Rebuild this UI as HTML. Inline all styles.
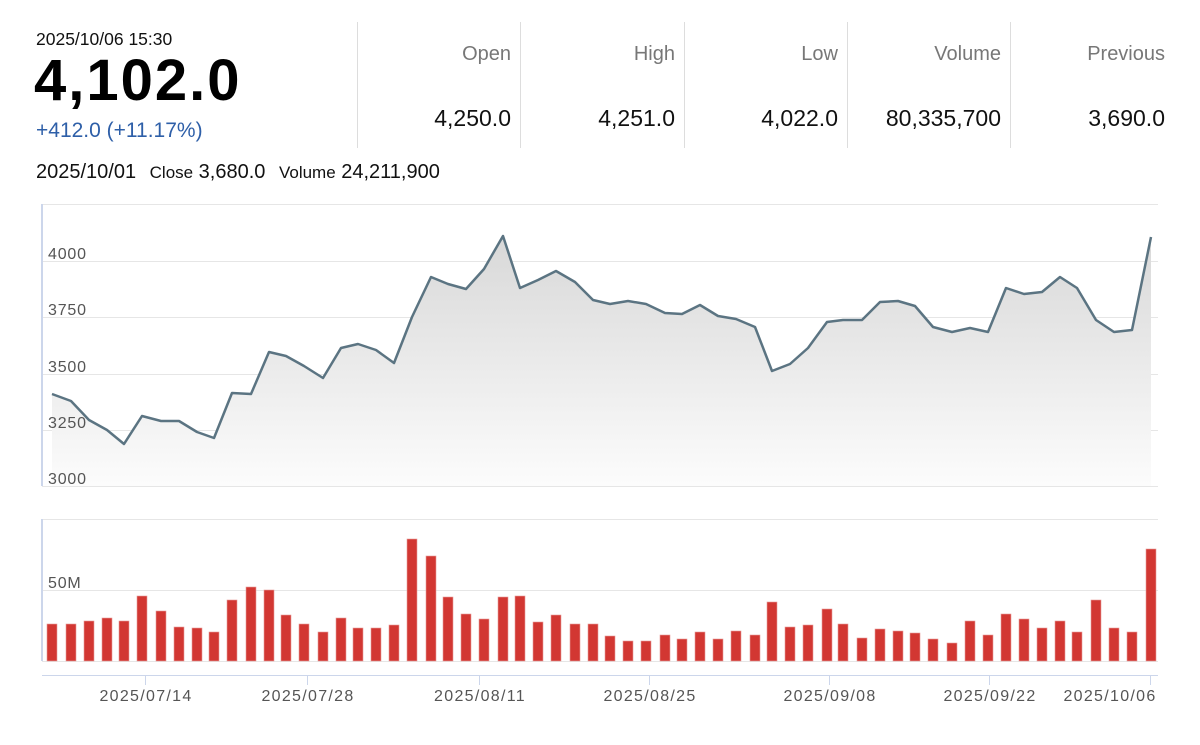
<!DOCTYPE html>
<html><head><meta charset="utf-8"><style>
body{margin:0;width:1200px;height:745px;background:#fff;font-family:"Liberation Sans",Arial,sans-serif;position:relative;overflow:hidden}
.a{position:absolute;white-space:nowrap}
.lab{color:#777;font-size:20px;text-align:right;width:150px}
.val{color:#111;font-size:23px;text-align:right;width:150px}
.div{position:absolute;top:22px;width:1px;height:126px;background:#ddd}
</style></head><body>
<div class="a" style="left:36px;top:29px;font-size:17.5px;color:#111">2025/10/06 15:30</div>
<div class="a" style="left:34px;top:47px;font-size:58px;font-weight:bold;color:#000;letter-spacing:2px">4,102.0</div>
<div class="a" style="left:36px;top:119px;font-size:21px;color:#2e5fa8">+412.0 (+11.17%)</div>
<div class="a" style="left:36px;top:161px;font-size:20px;color:#111">2025/10/01 <span style="font-size:17px;margin-left:8px">Close</span> 3,680.0 <span style="font-size:17px;margin-left:8px">Volume</span> 24,211,900</div>
<div class="div" style="left:357px"></div><div class="div" style="left:520px"></div><div class="div" style="left:684px"></div><div class="div" style="left:847px"></div><div class="div" style="left:1010px"></div>
<div class="a lab" style="left:361px;top:43px">Open</div><div class="a val" style="left:361px;top:105px">4,250.0</div>
<div class="a lab" style="left:525px;top:43px">High</div><div class="a val" style="left:525px;top:105px">4,251.0</div>
<div class="a lab" style="left:688px;top:43px">Low</div><div class="a val" style="left:688px;top:105px">4,022.0</div>
<div class="a lab" style="left:851px;top:43px">Volume</div><div class="a val" style="left:851px;top:105px">80,335,700</div>
<div class="a lab" style="left:1015px;top:43px">Previous</div><div class="a val" style="left:1015px;top:105px">3,690.0</div>
<svg class="a" style="left:0;top:0" width="1200" height="745">
<defs><linearGradient id="g" x1="0" y1="0" x2="0" y2="1"><stop offset="0" stop-color="#d8d8d8"/><stop offset="1" stop-color="#fcfcfc"/></linearGradient></defs>
<g stroke="#e6e6e6" stroke-width="1">
<line x1="42" y1="204.5" x2="1158" y2="204.5"/><line x1="42" y1="261.5" x2="1158" y2="261.5"/><line x1="42" y1="317.5" x2="1158" y2="317.5"/><line x1="42" y1="374.5" x2="1158" y2="374.5"/><line x1="42" y1="430.5" x2="1158" y2="430.5"/><line x1="42" y1="486.5" x2="1158" y2="486.5"/>
<line x1="42" y1="519.5" x2="1158" y2="519.5"/><line x1="42" y1="590.5" x2="1158" y2="590.5"/><line x1="42" y1="661.5" x2="1158" y2="661.5"/>
</g>
<g id="area"></g>
<g stroke="#ccd6eb" stroke-width="2"><line x1="42" y1="204" x2="42" y2="486"/><line x1="42" y1="519" x2="42" y2="661"/></g>
<line x1="42" y1="675.5" x2="1158" y2="675.5" stroke="#ccd6eb"/>
<g stroke="#ccd6eb"><line x1="145.5" y1="675" x2="145.5" y2="685"/><line x1="307.5" y1="675" x2="307.5" y2="685"/><line x1="479.5" y1="675" x2="479.5" y2="685"/><line x1="649.5" y1="675" x2="649.5" y2="685"/><line x1="829.5" y1="675" x2="829.5" y2="685"/><line x1="989.5" y1="675" x2="989.5" y2="685"/><line x1="1150.5" y1="675" x2="1150.5" y2="685"/></g>
<g fill="#555" font-size="16" font-family="Liberation Sans,sans-serif" letter-spacing="0.8">
<text x="48" y="259">4000</text><text x="48" y="315">3750</text><text x="48" y="372">3500</text><text x="48" y="428">3250</text><text x="48" y="484">3000</text>
<text x="48" y="588">50M</text><text x="48" y="659" fill="#999">0</text>
<g text-anchor="middle" letter-spacing="1.3"><text x="146" y="701">2025/07/14</text><text x="308" y="701">2025/07/28</text><text x="480" y="701">2025/08/11</text><text x="650" y="701">2025/08/25</text><text x="830" y="701">2025/09/08</text><text x="990" y="701">2025/09/22</text><text x="1110" y="701">2025/10/06</text></g>
</g>
<g id="bars" fill="#d23732" stroke="#e89c9a" stroke-width="0.6"></g>
</svg>
<script>
var L=[47,66,84,102,119,137,156,174,192,209,227,246,264,281,299,318,336,353,371,389,407,426,443,461,479,498,515,533,551,570,588,605,623,641,660,677,695,713,731,750,767,785,803,822,838,857,875,893,910,928,947,965,983,1001,1019,1037,1055,1072,1091,1109,1127,1146];
var T=[624,624,621,618,621,596,611,627,628,632,600,587,590,615,624,632,618,628,628,625,539,556,597,614,619,597,596,622,615,624,624,636,641,641,635,639,632,639,631,635,602,627,625,609,624,638,629,631,633,639,643,621,635,614,619,628,621,632,600,628,632,549];
var P=[394,401,420,430,444,416,421,421,432,438,393,394,352,356,366,378,348,344,350,363,317,277,284,289,269,236,288,280,271,282,300,304,301,304,313,314,305,316,319,327,371,364,348,322,320,320,302,301,306,327,332,328,332,288,294,292,277,288,320,332,330,237];
var s='',b='';
for(var i=0;i<L.length;i++){s+=(i?'L':'M')+(L[i]+5)+' '+P[i];b+='<rect x="'+L[i]+'" y="'+T[i]+'" width="10" height="'+(661-T[i])+'"/>';}
document.getElementById('area').innerHTML='<path d="'+s+'L'+(L[61]+5)+' 486L52 486Z" fill="url(#g)"/><path d="'+s+'" fill="none" stroke="#5b7482" stroke-width="2.5" stroke-linejoin="round"/>';
document.getElementById('bars').innerHTML=b;
</script>
</body></html>
